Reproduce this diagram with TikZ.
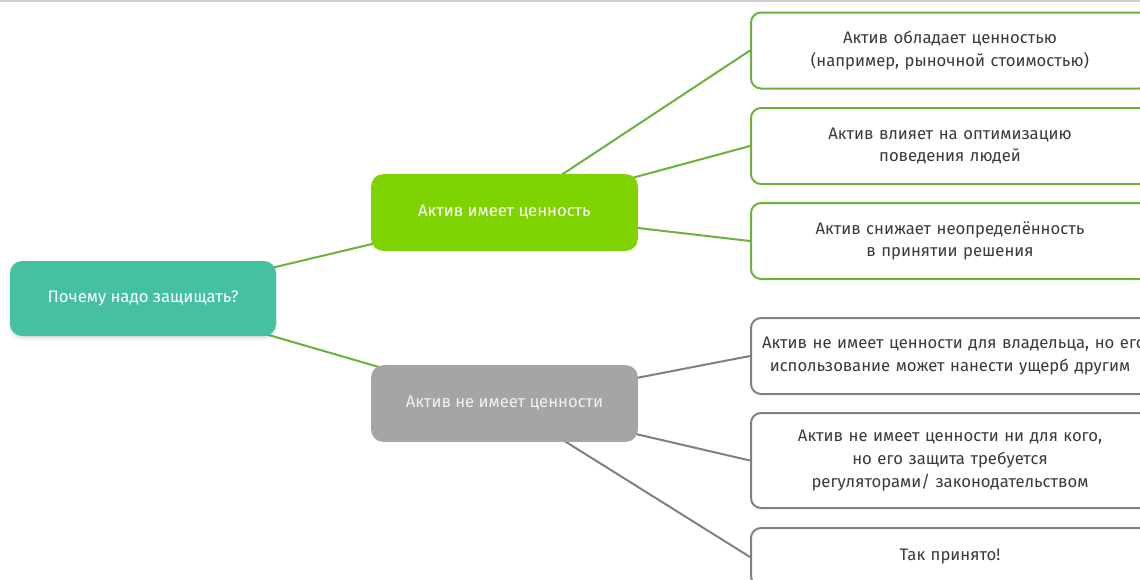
\documentclass[tikz,border=0pt]{standalone}
\usepackage{fontspec}
\setmainfont{Fira Sans}
\usetikzlibrary{backgrounds,shadows.blur}
\definecolor{rootfill}{HTML}{45C1A1}
\definecolor{yesfill}{HTML}{7ED300}
\definecolor{nofill}{HTML}{A5A5A5}
\definecolor{yesline}{HTML}{6AB23C}
\definecolor{noline}{HTML}{808080}
\definecolor{txt}{HTML}{3A3A3A}
\definecolor{topline}{HTML}{D0D0D0}
\tikzset{
  hub/.style={rectangle, rounded corners=9pt, minimum width=200pt, minimum height=57.5pt,
    text=white, font=\fontsize{12.5pt}{17pt}\selectfont, align=center},
  leaf/.style={rectangle, rounded corners=7.5pt, minimum width=298.5pt, line width=1.5pt,
    fill=white, text=txt, font=\fontsize{12.5pt}{17pt}\selectfont, align=center,
    text width=282pt, inner sep=2pt},
  yesleaf/.style={leaf, draw=yesline},
  noleaf/.style={leaf, draw=noline},
  yeslink/.style={draw=yesline, line width=1.5pt},
  nolink/.style={draw=noline, line width=1.5pt},
}
\begin{document}
\begin{tikzpicture}[x=0.75pt,y=-0.75pt]
  \useasboundingbox (0,0) rectangle (1140,579);
  \clip (0,0) rectangle (1140,579);
  \draw[topline, line width=1.5pt] (0,0.8) -- (1140,0.8);

  % central question and the two branches
  \node[hub, fill=rootfill, minimum width=199.5pt, minimum height=56.25pt,
    blur shadow={shadow xshift=0pt, shadow yshift=-2pt, shadow blur radius=2pt, shadow opacity=12}]
    (root) at (143,298.5) {Почему надо защищать?};
  \node[hub, fill=yesfill] (yes) at (504.5,212.5) {Актив имеет ценность};
  \node[hub, fill=nofill, text=white!94!black] (no) at (504.5,403.5) {Актив не имеет ценности};

  % reasons: the asset has value
  \node[yesleaf, minimum height=57pt] (y1) at (950,50.5) {Актив обладает ценностью\\(например, рыночной стоимостью)};
  \node[yesleaf, minimum height=57pt] (y2) at (950,146) {Актив влияет на оптимизацию\\поведения людей};
  \node[yesleaf, minimum height=57pt] (y3) at (950,241) {Актив снижает неопределённость\\в принятии решения};

  % reasons: the asset has no value (first line runs past the right edge)
  \node[noleaf, minimum height=57pt] (n1) at (950,356) {\mbox{Актив не имеет ценности для владельца, но его}\\использование может нанести ущерб другим};
  \node[noleaf, minimum height=71.25pt] (n2) at (950,460.5) {Актив не имеет ценности ни для кого,\\но его защита требуется\\регуляторами/ законодательством};
  \node[noleaf, minimum height=43.5pt] (n3) at (950,557) {Так принято!};

  \begin{scope}[on background layer]
    \draw[yeslink] (root.center) -- (yes.center);
    \draw[yeslink] (root.center) -- (no.center);
    \draw[yeslink] (yes.center) -- (y1.west);
    \draw[yeslink] (yes.center) -- (y2.west);
    \draw[yeslink] (yes.center) -- (y3.west);
    \draw[nolink] (no.center) -- (n1.west);
    \draw[nolink] (no.center) -- (n2.west);
    \draw[nolink] (no.center) -- (n3.west);
  \end{scope}
\end{tikzpicture}
\end{document}
